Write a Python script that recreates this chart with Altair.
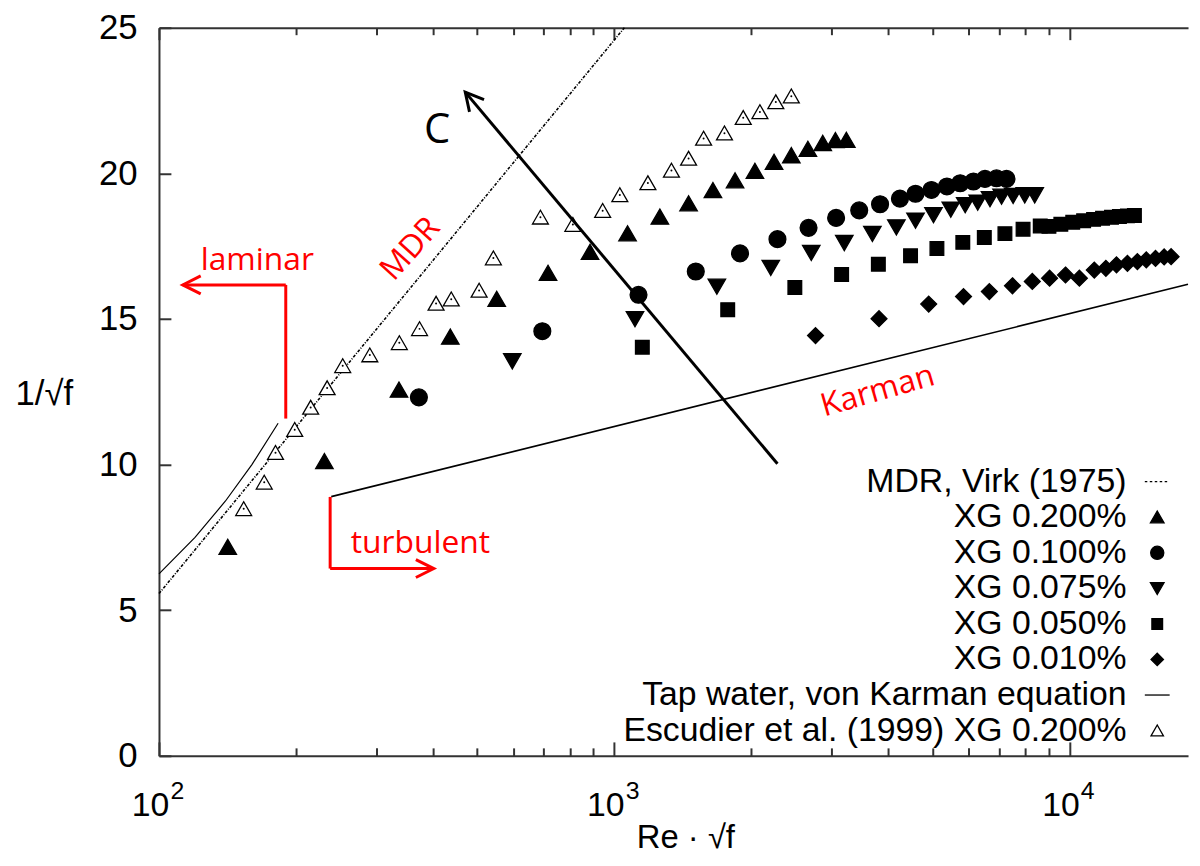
import altair as alt
import pandas as pd

# ---------------- data ----------------
esc_x = [153.5, 170.3, 180.3, 198.7, 215.4, 234.1, 253.3, 290.5, 337.3, 373.6, 406.2, 438.6, 505.0, 542.8,
         688.6, 811.4, 943.4, 1029, 1186, 1336, 1457, 1572, 1747, 1921, 2090, 2265, 2450]
esc_y = [8.48, 9.39, 10.41, 11.20, 11.96, 12.63, 13.39, 13.76, 14.18, 14.66, 15.53, 15.68, 15.98, 17.09,
         18.49, 18.24, 18.72, 19.26, 19.67, 20.10, 20.51, 21.20, 21.38, 21.91, 22.11, 22.45, 22.65]

xg200_x = [141.6, 230.9, 336.7, 436.5, 552, 715.6, 885, 1070, 1260, 1457, 1648, 1843, 2038, 2245, 2450,
           2664, 2872, 3062, 3236]
xg200_y = [7.16, 10.11, 12.56, 14.38, 15.68, 16.57, 17.29, 17.93, 18.50, 18.96, 19.41, 19.75, 20.07, 20.38,
           20.61, 20.83, 21.03, 21.13, 21.14]

xg100_x = [372.4, 695.3, 1131, 1511, 1890, 2284, 2673, 3073, 3454, 3838, 4244, 4592, 4977, 5383, 5757,
           6155, 6526, 6918, 7276]
xg100_y = [12.31, 14.58, 15.83, 16.63, 17.25, 17.74, 18.13, 18.47, 18.73, 18.94, 19.13, 19.30, 19.43, 19.55,
           19.66, 19.72, 19.81, 19.83, 19.81]

xg075_x = [597.3, 1111, 1681, 2208, 2710, 3203, 3692, 4168, 4592, 5029, 5489, 5904, 6290, 6693, 7096,
           7524, 7980, 8392]
xg075_y = [13.56, 15.01, 16.12, 16.77, 17.28, 17.62, 17.93, 18.16, 18.39, 18.58, 18.77, 18.92, 19.01, 19.13,
           19.21, 19.24, 19.26, 19.26]

xg050_x = [1153, 1776, 2494, 3160, 3805, 4478, 5117, 5833, 6503, 7218, 7912, 8630, 9018, 9577, 10172,
           10748, 11303, 11828, 12376, 12882, 13415, 13896]
xg050_y = [14.03, 15.32, 16.08, 16.53, 16.88, 17.17, 17.42, 17.63, 17.80, 17.93, 18.08, 18.19, 18.18, 18.25,
           18.32, 18.37, 18.42, 18.46, 18.49, 18.52, 18.54, 18.55]

xg010_x = [2769, 3818, 4909, 5854, 6671, 7499, 8290, 9048, 9806, 10520, 11344, 12028, 12692, 13415, 14106,
           14757, 15462, 16152, 16730]
xg010_y = [14.43, 15.01, 15.51, 15.77, 15.94, 16.14, 16.29, 16.40, 16.51, 16.40, 16.68, 16.74, 16.86, 16.91,
           16.97, 17.03, 17.08, 17.13, 17.14]

mdr_x = [100, 1053]
mdr_y = [5.57, 25.0]
laminar_x = [100, 120, 140, 160, 182.7]
laminar_y = [6.25, 7.5, 8.75, 10.0, 11.42]
karman_x = [239, 18225]
karman_y = [8.9, 16.19]

legend_names = ["MDR, Virk (1975)", "XG 0.200%", "XG 0.100%", "XG 0.075%", "XG 0.050%", "XG 0.010%",
                "Tap water, von Karman equation", "Escudier et al. (1999) XG 0.200%"]

x_major = [100, 1000, 10000]
x_minor = [200, 300, 400, 500, 600, 700, 800, 900, 2000, 3000, 4000, 5000, 6000, 7000, 8000, 9000]
y_ticks = [0, 5, 10, 15, 20, 25]

# annotations (data coordinates)
red_seg_x = [189.9, 189.9, 237.7, 237.7]
red_seg_y = [11.58, 16.17, 8.89, 6.43]
red_seg_x2 = [189.9, 112.8, 237.7, 401.5]
red_seg_y2 = [16.17, 16.17, 6.43, 6.43]
red_head_x = [112.8, 401.5]
red_head_y = [16.17, 6.43]
red_head_angle = [180, 0]
flat_text = ["laminar", "turbulent"]
flat_text_x = [164.4, 375.4]
flat_text_y = [16.69, 6.96]
tilt_text = ["MDR", "Karman"]
tilt_text_x = [356.5, 3790]
tilt_text_y = [17.41, 12.53]
tilt_text_angle = [312, 344]
blk_seg = dict(x=[2284], y=[10.03], x2=[470.8], y2=[22.79])
blk_head_angle = [230]
c_text_x = [408.3]
c_text_y = [21.5]

# ---------------- chart ----------------
W, H = 1036, 733
XDOM = [100, 18225]
xs = alt.Scale(type="log", domain=XDOM, nice=False)
ys = alt.Scale(domain=[0, 25], nice=False, zero=False)
AXC = "#333333"
FONT = "Liberation Sans"

series = [("XG 0.200%", xg200_x, xg200_y), ("XG 0.100%", xg100_x, xg100_y),
          ("XG 0.075%", xg075_x, xg075_y), ("XG 0.050%", xg050_x, xg050_y),
          ("XG 0.010%", xg010_x, xg010_y),
          ("Escudier et al. (1999) XG 0.200%", esc_x, esc_y)]
rows = []
for name, sx, sy in series:
    for a, b in zip(sx, sy):
        rows.append({"series": name, "x": a, "y": b})
pts = pd.DataFrame(rows)
esc_df = pd.DataFrame({"x": esc_x, "y": esc_y})

tri_up = "M-0.55,0.45L0.55,0.45L0,-0.5Z"
circ = "M0.53,0A0.53,0.53,0,1,1,-0.53,0A0.53,0.53,0,1,1,0.53,0Z"
tri_dn = "M-0.55,-0.45L0.55,-0.45L0,0.5Z"
sq = "M-0.43,-0.43H0.43V0.43H-0.43Z"
dia = "M0,-0.5L0.5,0L0,0.5L-0.5,0Z"
open_tri = "M-0.5,0.42L0.5,0.42L0,-0.45Z"
dash_line = "M-1,0H-0.8M-0.6,0H-0.4M-0.2,0H0M0.2,0H0.4M0.6,0H0.8"
solid_line = "M-1,0H1"

shape_range = [dash_line, tri_up, circ, tri_dn, sq, dia, solid_line, open_tri]
fill_range = ["transparent", "black", "black", "black", "black", "black", "transparent", "white"]
stroke_range = ["black"] * 8

leg = alt.Legend(orient="none", legendX=988, legendY=440, title=None, labelFont=FONT,
                 labelFontSize=34, labelColor="black", labelAlign="right", labelOffset={"expr": "-48"},
                 labelLimit=900, symbolSize=625, symbolStrokeWidth=1.3, rowPadding=1.8, padding=0)

base_expr = "'10'"
exp_expr = "datum.value == 100 ? '2' : (datum.value == 1000 ? '3' : '4')"

# axes
ax_x_lab = alt.Axis(orient="bottom", values=x_major, labelExpr=base_expr, ticks=False, domain=True,
                    domainColor=AXC, domainWidth=2, labelFont=FONT, labelFontSize=34, labelFlush=False,
                    labelColor="black", labelPadding=60, labelBaseline="alphabetic",
                    labelOffset={"expr": "-9"}, grid=False,
                    title="Re · √f", titleFont=FONT, titleFontSize=33,
                    titleFontWeight="normal", titleColor="black", titleX=530, titleY=92,
                    titleBaseline="alphabetic", titleAlign="center")
ax_x_exp = alt.Axis(orient="bottom", values=x_major, labelExpr=exp_expr, ticks=False, domain=False,
                    labelFont=FONT, labelFontSize=25, labelFlush=False, labelColor="black",
                    labelPadding=43, labelBaseline="alphabetic", labelOffset=18, grid=False, title=None)
ax_y_lab = alt.Axis(orient="left", values=y_ticks, ticks=False, domain=True, domainColor=AXC,
                    domainWidth=2, labelFont=FONT, labelFontSize=35, labelColor="black", labelFlush=False,
                    labelPadding=22, grid=False, title="1/√f", titleFont=FONT,
                    titleFontSize=35, titleFontWeight="normal", titleColor="black", titleAngle=0,
                    titleX=-145, titleY=379, titleAlign="left", titleBaseline="alphabetic")


def tick_axis(orient, vals, size, domain=False):
    return alt.Axis(orient=orient, values=vals, labels=False, domain=domain, domainColor=AXC,
                    domainWidth=2, ticks=True, tickColor=AXC, tickWidth=2,
                    tickSize={"expr": str(-size)}, grid=False, title=None)


def line_layer(xv, yv, axx, axy, **mk):
    df = pd.DataFrame({"x": xv, "y": yv})
    return alt.Chart(df).mark_line(color="black", **mk).encode(
        x=alt.X("x:Q", scale=xs, axis=axx),
        y=alt.Y("y:Q", scale=ys, axis=axy),
    )


mdr = line_layer(mdr_x, mdr_y, ax_x_lab, ax_y_lab, strokeWidth=1.6, strokeDash=[3, 1.5, 1, 1.5])
lam = line_layer(laminar_x, laminar_y, tick_axis("bottom", x_major, 14),
                 alt.Axis(orient="left", values=y_ticks, labels=False, domain=False, ticks=True,
                          tickColor=AXC, tickWidth=2, tickSize={"expr": "-12"}, grid=False, title=None),
                 strokeWidth=1.2)
kar = line_layer(karman_x, karman_y, tick_axis("bottom", x_minor, 8), None, strokeWidth=1.6)

points = alt.Chart(pts).mark_point(size=1024, opacity=1, strokeWidth=1.3).encode(
    x=alt.X("x:Q", scale=xs, axis=tick_axis("top", x_major, 12, domain=True)),
    y=alt.Y("y:Q", scale=ys, axis=None),
    shape=alt.Shape("series:N", scale=alt.Scale(domain=legend_names, range=shape_range), legend=leg),
    fill=alt.Fill("series:N", scale=alt.Scale(domain=legend_names, range=fill_range), legend=leg),
    stroke=alt.Stroke("series:N", scale=alt.Scale(domain=legend_names, range=stroke_range), legend=leg),
)

dots = alt.Chart(esc_df).mark_point(filled=True, size=4, color="black", opacity=1).encode(
    x=alt.X("x:Q", scale=xs, axis=tick_axis("top", x_minor, 7)),
    y=alt.Y("y:Q", scale=ys, axis=None),
)

red_segs = alt.Chart(pd.DataFrame({"x": red_seg_x, "y": red_seg_y, "x2": red_seg_x2, "y2": red_seg_y2})
                     ).mark_rule(color="red", strokeWidth=3).encode(
    x=alt.X("x:Q", scale=xs, axis=ax_x_exp), y=alt.Y("y:Q", scale=ys, axis=None), x2="x2:Q", y2="y2:Q")

chevron = "M-1,-0.5L0,0L-1,0.5"
red_heads = alt.Chart(pd.DataFrame({"x": red_head_x, "y": red_head_y, "a": red_head_angle})).mark_point(
    shape=chevron, size=1300, stroke="red", strokeWidth=3, filled=False, opacity=1).encode(
    x=alt.X("x:Q", scale=xs, axis=None), y=alt.Y("y:Q", scale=ys, axis=None),
    angle=alt.Angle("a:Q", scale=None))

blk_arrow = alt.Chart(pd.DataFrame(blk_seg)).mark_rule(color="black", strokeWidth=3).encode(
    x=alt.X("x:Q", scale=xs, axis=None), y=alt.Y("y:Q", scale=ys, axis=None), x2="x2:Q", y2="y2:Q")
blk_head = alt.Chart(pd.DataFrame({"x": blk_seg["x2"], "y": blk_seg["y2"], "a": blk_head_angle})).mark_point(
    shape="M-1,-0.53L0,0L-1,0.53", size=1300, stroke="black", strokeWidth=3, filled=False, opacity=1).encode(
    x=alt.X("x:Q", scale=xs, axis=None), y=alt.Y("y:Q", scale=ys, axis=None),
    angle=alt.Angle("a:Q", scale=None))

flat_labels = alt.Chart(pd.DataFrame({"x": flat_text_x, "y": flat_text_y, "t": flat_text})).mark_text(
    color="red", font="Open Sans", fontSize=32, baseline="alphabetic", align="center").encode(
    x=alt.X("x:Q", scale=xs, axis=None), y=alt.Y("y:Q", scale=ys, axis=None), text="t:N")

tilt_labels = alt.Chart(pd.DataFrame({"x": tilt_text_x, "y": tilt_text_y, "t": tilt_text,
                                      "a": tilt_text_angle})).mark_text(
    color="red", font="Open Sans", fontSize=32, baseline="middle", align="center").encode(
    x=alt.X("x:Q", scale=xs, axis=None), y=alt.Y("y:Q", scale=ys, axis=None), text="t:N",
    angle=alt.Angle("a:Q", scale=None))

c_label = alt.Chart(pd.DataFrame({"x": c_text_x, "y": c_text_y, "t": ["C"]})).mark_text(
    color="black", font="Open Sans", fontSize=42, baseline="middle", align="center").encode(
    x=alt.X("x:Q", scale=xs, axis=None), y=alt.Y("y:Q", scale=ys, axis=None), text="t:N")

chart = alt.layer(mdr, lam, kar, points, dots, red_segs, red_heads, blk_arrow, blk_head,
                  flat_labels, tilt_labels, c_label
                  ).resolve_axis(x="independent", y="independent").properties(
    width=W, height=H,
    autosize=alt.AutoSizeParams(type="none"),
    padding={"left": 152, "top": 17, "right": 4, "bottom": 100},
    background="white",
).configure_view(stroke=None)

chart.save("out.html", embed_options={"renderer": "svg", "actions": False})
